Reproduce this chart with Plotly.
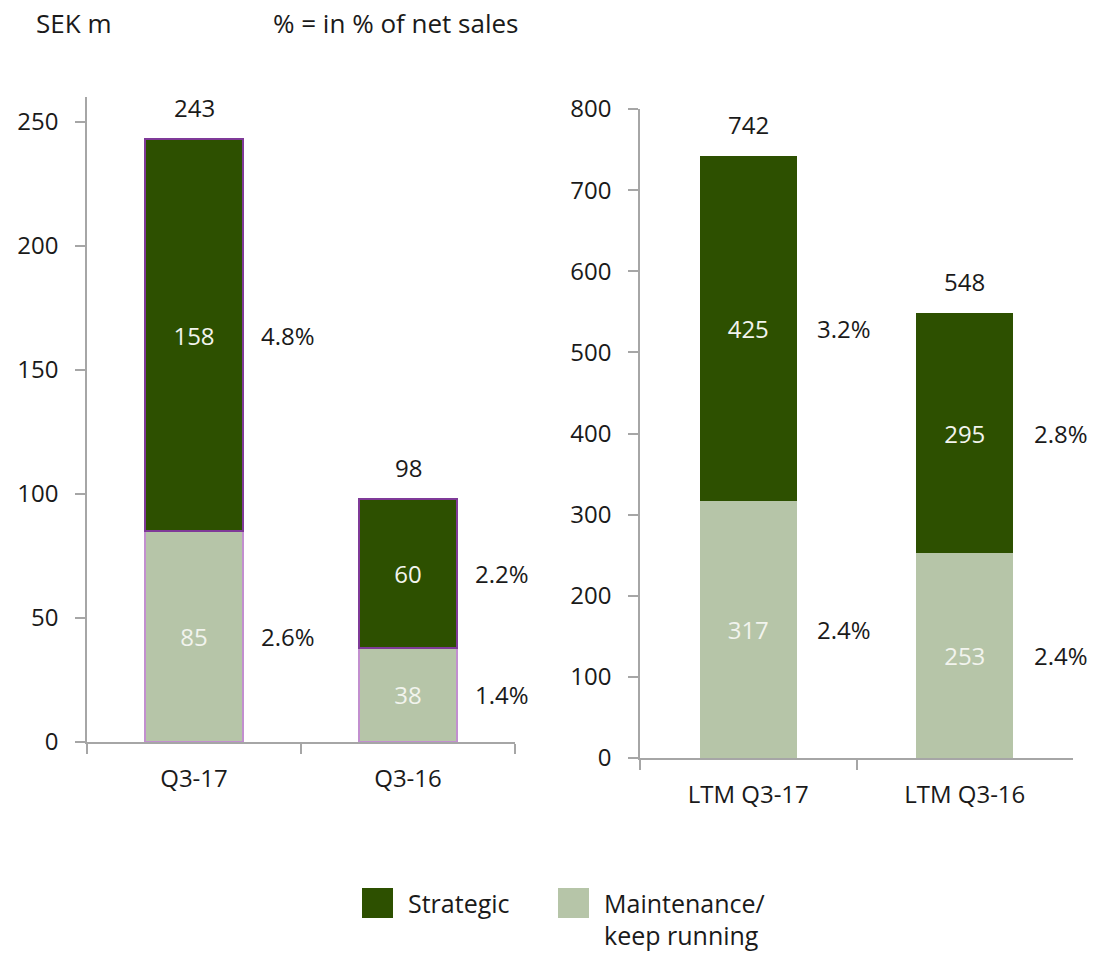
import plotly.graph_objects as go

# Capex, SEK m
quarter_cats = ["Q3-17", "Q3-16"]
quarter_strategic = [158, 60]
quarter_maint = [85, 38]
quarter_strategic_pct = ["4.8%", "2.2%"]
quarter_maint_pct = ["2.6%", "1.4%"]

ltm_cats = ["LTM Q3-17", "LTM Q3-16"]
ltm_strategic = [425, 295]
ltm_maint = [317, 253]
ltm_strategic_pct = ["3.2%", "2.8%"]
ltm_maint_pct = ["2.4%", "2.4%"]

left_ticks = [0, 50, 100, 150, 200, 250]
right_ticks = [0, 100, 200, 300, 400, 500, 600, 700, 800]

DARK = "#2D5000"
LIGHT = "#B6C5A8"
FONT = "Open Sans, Noto Sans, sans-serif"
FS = 24
FS_WORDS = 26
TXT = "#1A1A1A"
AXIS = "#A6A6A6"
INSIDE = "#F2F4EE"

W, H = 1114, 954


def px_x(p):
    return p / W


def px_y(p):
    return 1 - p / H


fig = go.Figure()

# Quarter panel
fig.add_trace(go.Bar(
    x=quarter_cats, y=quarter_maint, name="Maintenance/ keep running",
    marker=dict(color=LIGHT, line=dict(color="#C28FCF", width=2)),
    text=[str(v) for v in quarter_maint], textposition="inside",
    insidetextanchor="middle", textangle=0,
    textfont=dict(color=INSIDE, size=FS, family=FONT),
    width=0.46, xaxis="x", yaxis="y", showlegend=False))
fig.add_trace(go.Bar(
    x=quarter_cats, y=quarter_strategic, name="Strategic",
    marker=dict(color=DARK, line=dict(color="#7F3A98", width=2)),
    text=[str(v) for v in quarter_strategic], textposition="inside",
    insidetextanchor="middle", textangle=0,
    textfont=dict(color=INSIDE, size=FS, family=FONT),
    width=0.46, xaxis="x", yaxis="y", showlegend=False))

# LTM panel
fig.add_trace(go.Bar(
    x=ltm_cats, y=ltm_maint, name="Maintenance/ keep running",
    marker=dict(color=LIGHT, line=dict(width=0)),
    text=[str(v) for v in ltm_maint], textposition="inside",
    insidetextanchor="middle", textangle=0,
    textfont=dict(color=INSIDE, size=FS, family=FONT),
    width=0.45, xaxis="x2", yaxis="y2", showlegend=False))
fig.add_trace(go.Bar(
    x=ltm_cats, y=ltm_strategic, name="Strategic",
    marker=dict(color=DARK, line=dict(width=0)),
    text=[str(v) for v in ltm_strategic], textposition="inside",
    insidetextanchor="middle", textangle=0,
    textfont=dict(color=INSIDE, size=FS, family=FONT),
    width=0.45, xaxis="x2", yaxis="y2", showlegend=False))

annotations = []


def panel_labels(cats, maint, strat, maint_pct, strat_pct, xref, yref, xshift):
    for c, m, s, mp, sp in zip(cats, maint, strat, maint_pct, strat_pct):
        annotations.append(dict(
            x=c, y=m + s, xref=xref, yref=yref, text=str(m + s),
            showarrow=False, yanchor="bottom", yshift=13,
            font=dict(size=FS, color=TXT, family=FONT)))
        annotations.append(dict(
            x=c, y=m / 2, xref=xref, yref=yref, text=mp,
            showarrow=False, xshift=xshift,
            font=dict(size=FS, color=TXT, family=FONT)))
        annotations.append(dict(
            x=c, y=m + s / 2, xref=xref, yref=yref, text=sp,
            showarrow=False, xshift=xshift,
            font=dict(size=FS, color=TXT, family=FONT)))


panel_labels(quarter_cats, quarter_maint, quarter_strategic,
             quarter_maint_pct, quarter_strategic_pct, "x", "y", 94)
panel_labels(ltm_cats, ltm_maint, ltm_strategic,
             ltm_maint_pct, ltm_strategic_pct, "x2", "y2", 96)

# Header notes
annotations.append(dict(x=px_x(34), y=px_y(23), xref="paper", yref="paper",
                        text="SEK m", showarrow=False, xanchor="left",
                        yanchor="middle",
                        font=dict(size=FS_WORDS, color=TXT, family=FONT)))
annotations.append(dict(x=px_x(271), y=px_y(23), xref="paper", yref="paper",
                        text="% = in % of net sales", showarrow=False,
                        xanchor="left", yanchor="middle",
                        font=dict(size=FS_WORDS, color=TXT, family=FONT)))

# Legend
shapes = []
legend_items = [("Strategic", DARK, 362, ["Strategic"]),
                ("Maintenance/ keep running", LIGHT, 558, ["Maintenance/", "keep running"])]
for name, color, x0, lines in legend_items:
    shapes.append(dict(type="rect", xref="paper", yref="paper",
                       x0=px_x(x0), x1=px_x(x0 + 31), y0=px_y(918), y1=px_y(888),
                       fillcolor=color, line=dict(width=0)))
    for i, line in enumerate(lines):
        annotations.append(dict(x=px_x(x0 + 44), y=px_y(903 + 32 * i),
                                xref="paper", yref="paper",
                                text=line, showarrow=False, xanchor="left",
                                yanchor="middle", align="left",
                                font=dict(size=25, color=TXT, family=FONT)))

axis_common = dict(showline=True, linecolor=AXIS, linewidth=1.5, ticks="outside",
                   tickcolor=AXIS, ticklen=10, tickwidth=1.5, showgrid=False,
                   zeroline=False, automargin=False,
                   tickfont=dict(size=FS, color=TXT, family=FONT))

fig.update_layout(
    width=W, height=H,
    margin=dict(l=0, r=0, t=0, b=0, autoexpand=False),
    paper_bgcolor="white", plot_bgcolor="white",
    barmode="stack",
    showlegend=False,
    xaxis=dict(domain=[px_x(87), px_x(515)], anchor="y", type="category",
               range=[-0.5, 1.5], tickson="boundaries", ticklabelstandoff=14,
               **axis_common),
    yaxis=dict(domain=[px_y(742), px_y(97)], anchor="x", range=[0, 260],
               tickvals=left_ticks, ticklabelstandoff=12, **axis_common),
    xaxis2=dict(domain=[px_x(640), px_x(1073)], anchor="y2", type="category",
                range=[-0.5, 1.5], tickson="boundaries", ticklabelstandoff=14,
                **axis_common),
    yaxis2=dict(domain=[px_y(758), px_y(109)], anchor="x2", range=[0, 800],
                tickvals=right_ticks, ticklabelstandoff=12, **axis_common),
    annotations=annotations,
    shapes=shapes,
)

fig.write_html("out.html")
